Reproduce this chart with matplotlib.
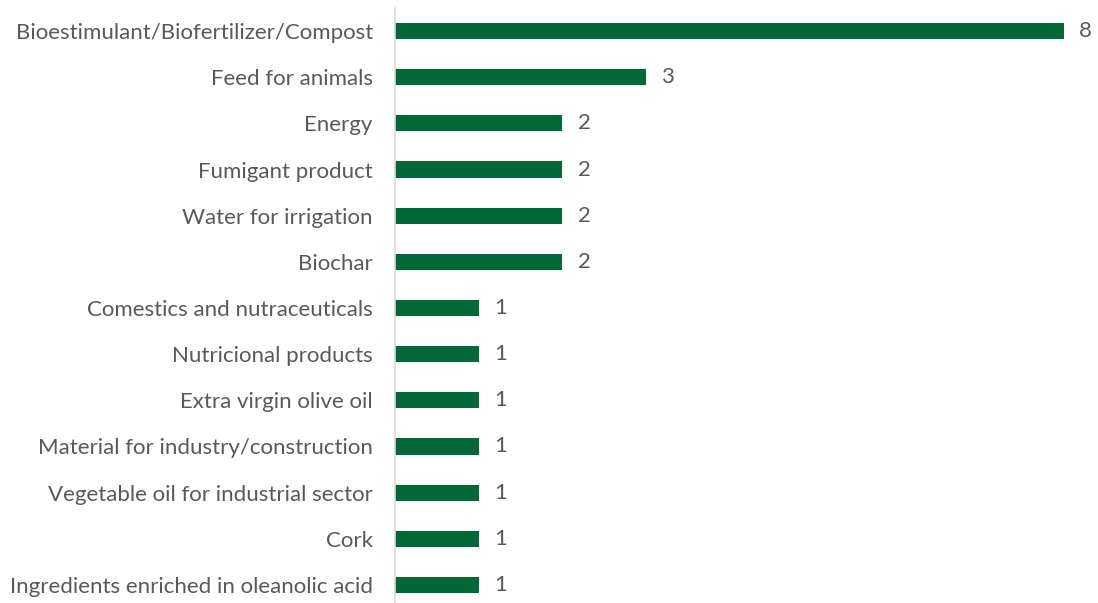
import matplotlib.pyplot as plt

# Datos del gráfico (de arriba a abajo)
categorias = [
    'Bioestimulant/Biofertilizer/Compost',
    'Feed for animals',
    'Energy',
    'Fumigant product',
    'Water for irrigation',
    'Biochar',
    'Comestics and nutraceuticals',
    'Nutricional products',
    'Extra virgin olive oil',
    'Material for industry/construction',
    'Vegetable oil for industrial sector',
    'Cork',
    'Ingredients enriched in oleanolic acid',
]
valores = [8, 3, 2, 2, 2, 2, 1, 1, 1, 1, 1, 1, 1]

verde = '#006837'
gris_texto = '#595959'

plt.rcParams['font.family'] = ['Lato', 'DejaVu Sans']

fig = plt.figure(figsize=(10.98, 6.03), dpi=100)
ax = fig.add_axes([395 / 1098, -5 / 603, (1064 - 395) / 1098, 600 / 603])

pos = list(range(len(categorias)))
barras = ax.barh(pos, valores, height=0.35, color=verde)
ax.set_yticks(pos)
ax.set_yticklabels(categorias, fontsize=16, color=gris_texto)
ax.set_ylim(len(categorias) - 0.5, -0.5)
ax.set_xlim(0, 8)

# Etiquetas de valor
for b, v in zip(barras, valores):
    ax.annotate(str(v), (b.get_width(), b.get_y() + b.get_height() / 2),
                xytext=(11, 0), textcoords='offset points', va='center', ha='left',
                fontsize=16, color=gris_texto)

for s in ['top', 'right', 'bottom']:
    ax.spines[s].set_visible(False)
ax.spines['left'].set_color('#d9d9d9')
ax.spines['left'].set_linewidth(1.2)
ax.tick_params(axis='y', length=0, pad=16)
ax.set_xticks([])

fig.savefig('out.png', dpi=100)
